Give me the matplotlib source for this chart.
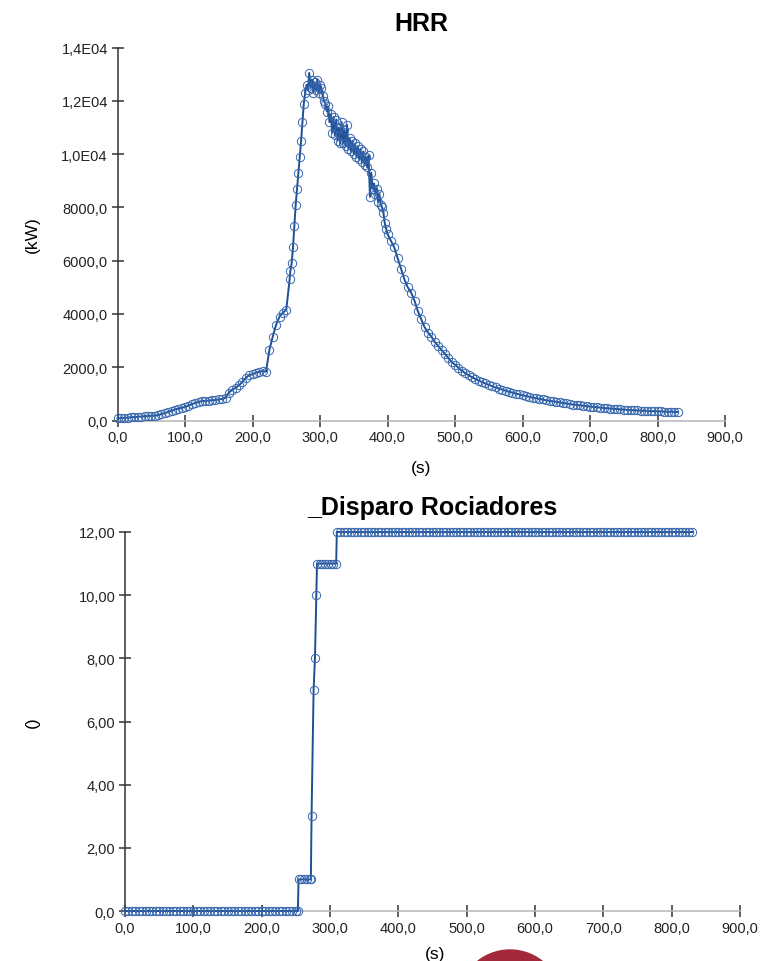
import matplotlib
matplotlib.use("Agg")
import matplotlib.pyplot as plt
from matplotlib.patches import Ellipse

plt.rcParams['font.family'] = ['Liberation Sans', 'DejaVu Sans']

# Datos HRR (s, kW)
hrr_t = [
    0, 5, 10, 15, 20, 25, 30, 35, 40, 45, 50, 55, 60, 65, 70, 75, 80, 85, 90, 95,
    100, 105, 110, 115, 120, 125, 130, 135, 140, 145, 150, 155, 160, 165, 170, 175,
    180, 185, 190, 195, 200, 205, 210, 215, 220, 225, 230, 235, 240, 245, 250, 255,
    256, 258, 260, 262, 264, 266, 268, 270, 272, 274, 276, 278, 280, 282, 284, 286,
    288, 290, 292, 294, 296, 298, 300, 302, 304, 306, 308, 310, 312, 314, 316, 318,
    320, 322, 324, 326, 328, 330, 332, 334, 336, 338, 340, 342, 344, 346, 348, 350,
    352, 354, 356, 358, 360, 362, 364, 366, 368, 370, 372, 374, 376, 378, 380, 382,
    384, 386, 388, 390, 392, 394, 396, 398, 400,
    405, 410, 415, 420, 425, 430, 435, 440, 445, 450, 455, 460, 465, 470, 475, 480,
    485, 490, 495, 500, 505, 510, 515, 520, 525, 530, 535, 540, 545, 550, 555, 560,
    565, 570, 575, 580, 585, 590, 595, 600, 605, 610, 615, 620, 625, 630, 635, 640,
    645, 650, 655, 660, 665, 670, 675, 680, 685, 690, 695, 700, 705, 710, 715, 720,
    725, 730, 735, 740, 745, 750, 755, 760, 765, 770, 775, 780, 785, 790, 795, 800,
    805, 810, 815, 820, 825, 830,
]
hrr_kw = [
    80, 90, 100, 110, 120, 130, 140, 150, 160, 170, 175, 185, 200, 240, 280, 320,
    370, 410, 450, 480, 510, 560, 610, 660, 700, 730, 740, 750, 760, 770, 790, 810,
    850, 1050, 1150, 1230, 1320, 1450, 1600, 1700, 1740, 1790, 1830, 1860, 1830, 2650,
    3150, 3600, 3900, 4050, 4150, 5300,
    5600, 5900, 6500, 7300, 8100, 8700, 9300, 9900, 10500, 11200, 11900, 12300, 12600,
    12400, 13050, 12500, 12800, 12300, 12700, 12400, 12800, 12300, 12600, 12500, 12200,
    12000, 11900, 11600, 11800, 11200, 11500, 10800, 11400, 10700, 11300, 10500, 11000,
    10400, 11200, 10400, 10900, 10300, 11100, 10200, 10600, 10100, 10500, 10000, 10400,
    9900, 10300, 9800, 10200, 9700, 10100, 9600, 9900, 9500, 9950, 8400, 9300, 8700,
    8900, 8500, 8700, 8200, 8500, 8100, 8000, 7800, 7400, 7200, 7000,
    6750, 6500, 6100, 5700, 5300, 5000, 4800, 4500, 4100, 3800, 3500, 3300, 3150, 2950,
    2800, 2650, 2500, 2350, 2200, 2100, 1980, 1870, 1780, 1700, 1630, 1560, 1500, 1440,
    1390, 1340, 1290, 1240, 1200, 1160, 1120, 1080, 1050, 1010, 980, 950, 920, 890,
    860, 840, 810, 790, 760, 740, 720, 700, 680, 660, 640, 620, 600, 590, 570, 555,
    540, 525, 510, 500, 485, 470, 460, 450, 440, 430, 420, 410, 400, 395, 385, 380,
    370, 365, 360, 355, 350, 345, 340, 335, 330, 330, 325, 320,
]

# Datos disparo rociadores (s, n)
disp_t = [
    0, 5, 10, 15, 20, 25, 30, 35, 40, 45, 50, 55, 60, 65, 70, 75, 80, 85, 90, 95,
    100, 105, 110, 115, 120, 125, 130, 135, 140, 145, 150, 155, 160, 165, 170, 175,
    180, 185, 190, 195, 200, 205, 210, 215, 220, 225, 230, 235, 240, 245, 250, 253,
    254, 258, 262, 266, 270, 272, 273, 276, 278, 280, 281, 285, 289, 293, 297, 301,
    305, 309, 310, 315, 320, 325, 330, 335, 340, 345, 350, 355, 360, 365, 370, 375,
    380, 385, 390, 395, 400, 405, 410, 415, 420, 425, 430, 435, 440, 445, 450, 455,
    460, 465, 470, 475, 480, 485, 490, 495, 500, 505, 510, 515, 520, 525, 530, 535,
    540, 545, 550, 555, 560, 565, 570, 575, 580, 585, 590, 595, 600, 605, 610, 615,
    620, 625, 630, 635, 640, 645, 650, 655, 660, 665, 670, 675, 680, 685, 690, 695,
    700, 705, 710, 715, 720, 725, 730, 735, 740, 745, 750, 755, 760, 765, 770, 775,
    780, 785, 790, 795, 800, 805, 810, 815, 820, 825, 830,
]
disp_n = [
    0, 0, 0, 0, 0, 0, 0, 0, 0, 0, 0, 0, 0, 0, 0, 0, 0, 0, 0, 0,
    0, 0, 0, 0, 0, 0, 0, 0, 0, 0, 0, 0, 0, 0, 0, 0,
    0, 0, 0, 0, 0, 0, 0, 0, 0, 0, 0, 0, 0, 0, 0, 0,
    1, 1, 1, 1, 1, 1, 3, 7, 8, 10, 11, 11, 11, 11, 11, 11,
    11, 11, 12, 12, 12, 12, 12, 12, 12, 12, 12, 12, 12, 12, 12, 12,
    12, 12, 12, 12, 12, 12, 12, 12, 12, 12, 12, 12, 12, 12, 12, 12,
    12, 12, 12, 12, 12, 12, 12, 12, 12, 12, 12, 12, 12, 12, 12, 12,
    12, 12, 12, 12, 12, 12, 12, 12, 12, 12, 12, 12, 12, 12, 12, 12,
    12, 12, 12, 12, 12, 12, 12, 12, 12, 12, 12, 12, 12, 12, 12, 12,
    12, 12, 12, 12, 12, 12, 12, 12, 12, 12, 12, 12, 12, 12, 12, 12,
    12, 12, 12, 12, 12, 12, 12, 12, 12, 12, 12,
]

x_ticks = [0, 100, 200, 300, 400, 500, 600, 700, 800, 900]
x_labels = ["0,0", "100,0", "200,0", "300,0", "400,0", "500,0", "600,0", "700,0", "800,0", "900,0"]
hrr_yticks = [0, 2000, 4000, 6000, 8000, 10000, 12000, 14000]
hrr_ylabels = ["0,0", "2000,0", "4000,0", "6000,0", "8000,0", "1,0E04", "1,2E04", "1,4E04"]
disp_yticks = [0, 2, 4, 6, 8, 10, 12]
disp_ylabels = ["0,0", "2,00", "4,00", "6,00", "8,00", "10,00", "12,00"]

LINE = '#1f4f94'
MARK = '#3566ad'
W, H = 769, 962

fig = plt.figure(figsize=(W / 100, H / 100), dpi=100)
ax1 = fig.add_axes([117.5 / W, 1 - 421.5 / H, 607.5 / W, 372.9 / H])
ax2 = fig.add_axes([125 / W, 1 - 912 / H, 615 / W, 379 / H])


def estilo(ax, yticks, ylabels, title, ylabel):
    for s in ['top', 'right']:
        ax.spines[s].set_visible(False)
    ax.spines['left'].set_color('#333333')
    ax.spines['left'].set_linewidth(1.1)
    ax.spines['bottom'].set_color('#b5b5b5')
    ax.spines['bottom'].set_linewidth(1.1)
    ax.set_xlim(0, 900)
    ax.set_xticks(x_ticks)
    ax.set_xticklabels(x_labels)
    ax.set_yticks(yticks)
    ax.set_yticklabels(ylabels)
    ax.tick_params(direction='inout', length=8, width=1.1, color='#333333',
                   labelsize=10.5, labelcolor='#222222', pad=3)
    ax.set_title(title, fontsize=18, fontweight='bold', pad=13)
    ax.set_ylabel(ylabel, fontsize=12.5)
    ax.set_xlabel("(s)", fontsize=12.5)


ax1.plot(hrr_t, hrr_kw, color=LINE, lw=1.4, marker='o', ms=6, mfc='none',
         mec=MARK, mew=0.7, clip_on=False, zorder=3)
ax1.set_ylim(0, 14000)
estilo(ax1, hrr_yticks, hrr_ylabels, "HRR", "(kW)")
ax1.yaxis.set_label_coords(-0.128, 0.5)
ax1.xaxis.set_label_coords(0.5, -0.105)

ax2.plot(disp_t, disp_n, color=LINE, lw=1.4, marker='o', ms=6, mfc='none',
         mec=MARK, mew=0.7, clip_on=False, zorder=3)
ax2.set_ylim(0, 12)
estilo(ax2, disp_yticks, disp_ylabels, "_Disparo Rociadores", "()")
ax2.yaxis.set_label_coords(-0.138, 0.5)
ax2.xaxis.set_label_coords(0.504, -0.092)

# logo recortado abajo
fig.patches.append(Ellipse((510 / W, 1 - 1003 / H), 104 / W, 104 / H,
                           transform=fig.transFigure, color='#a3283c', zorder=0))

fig.savefig("out.png", dpi=100)
